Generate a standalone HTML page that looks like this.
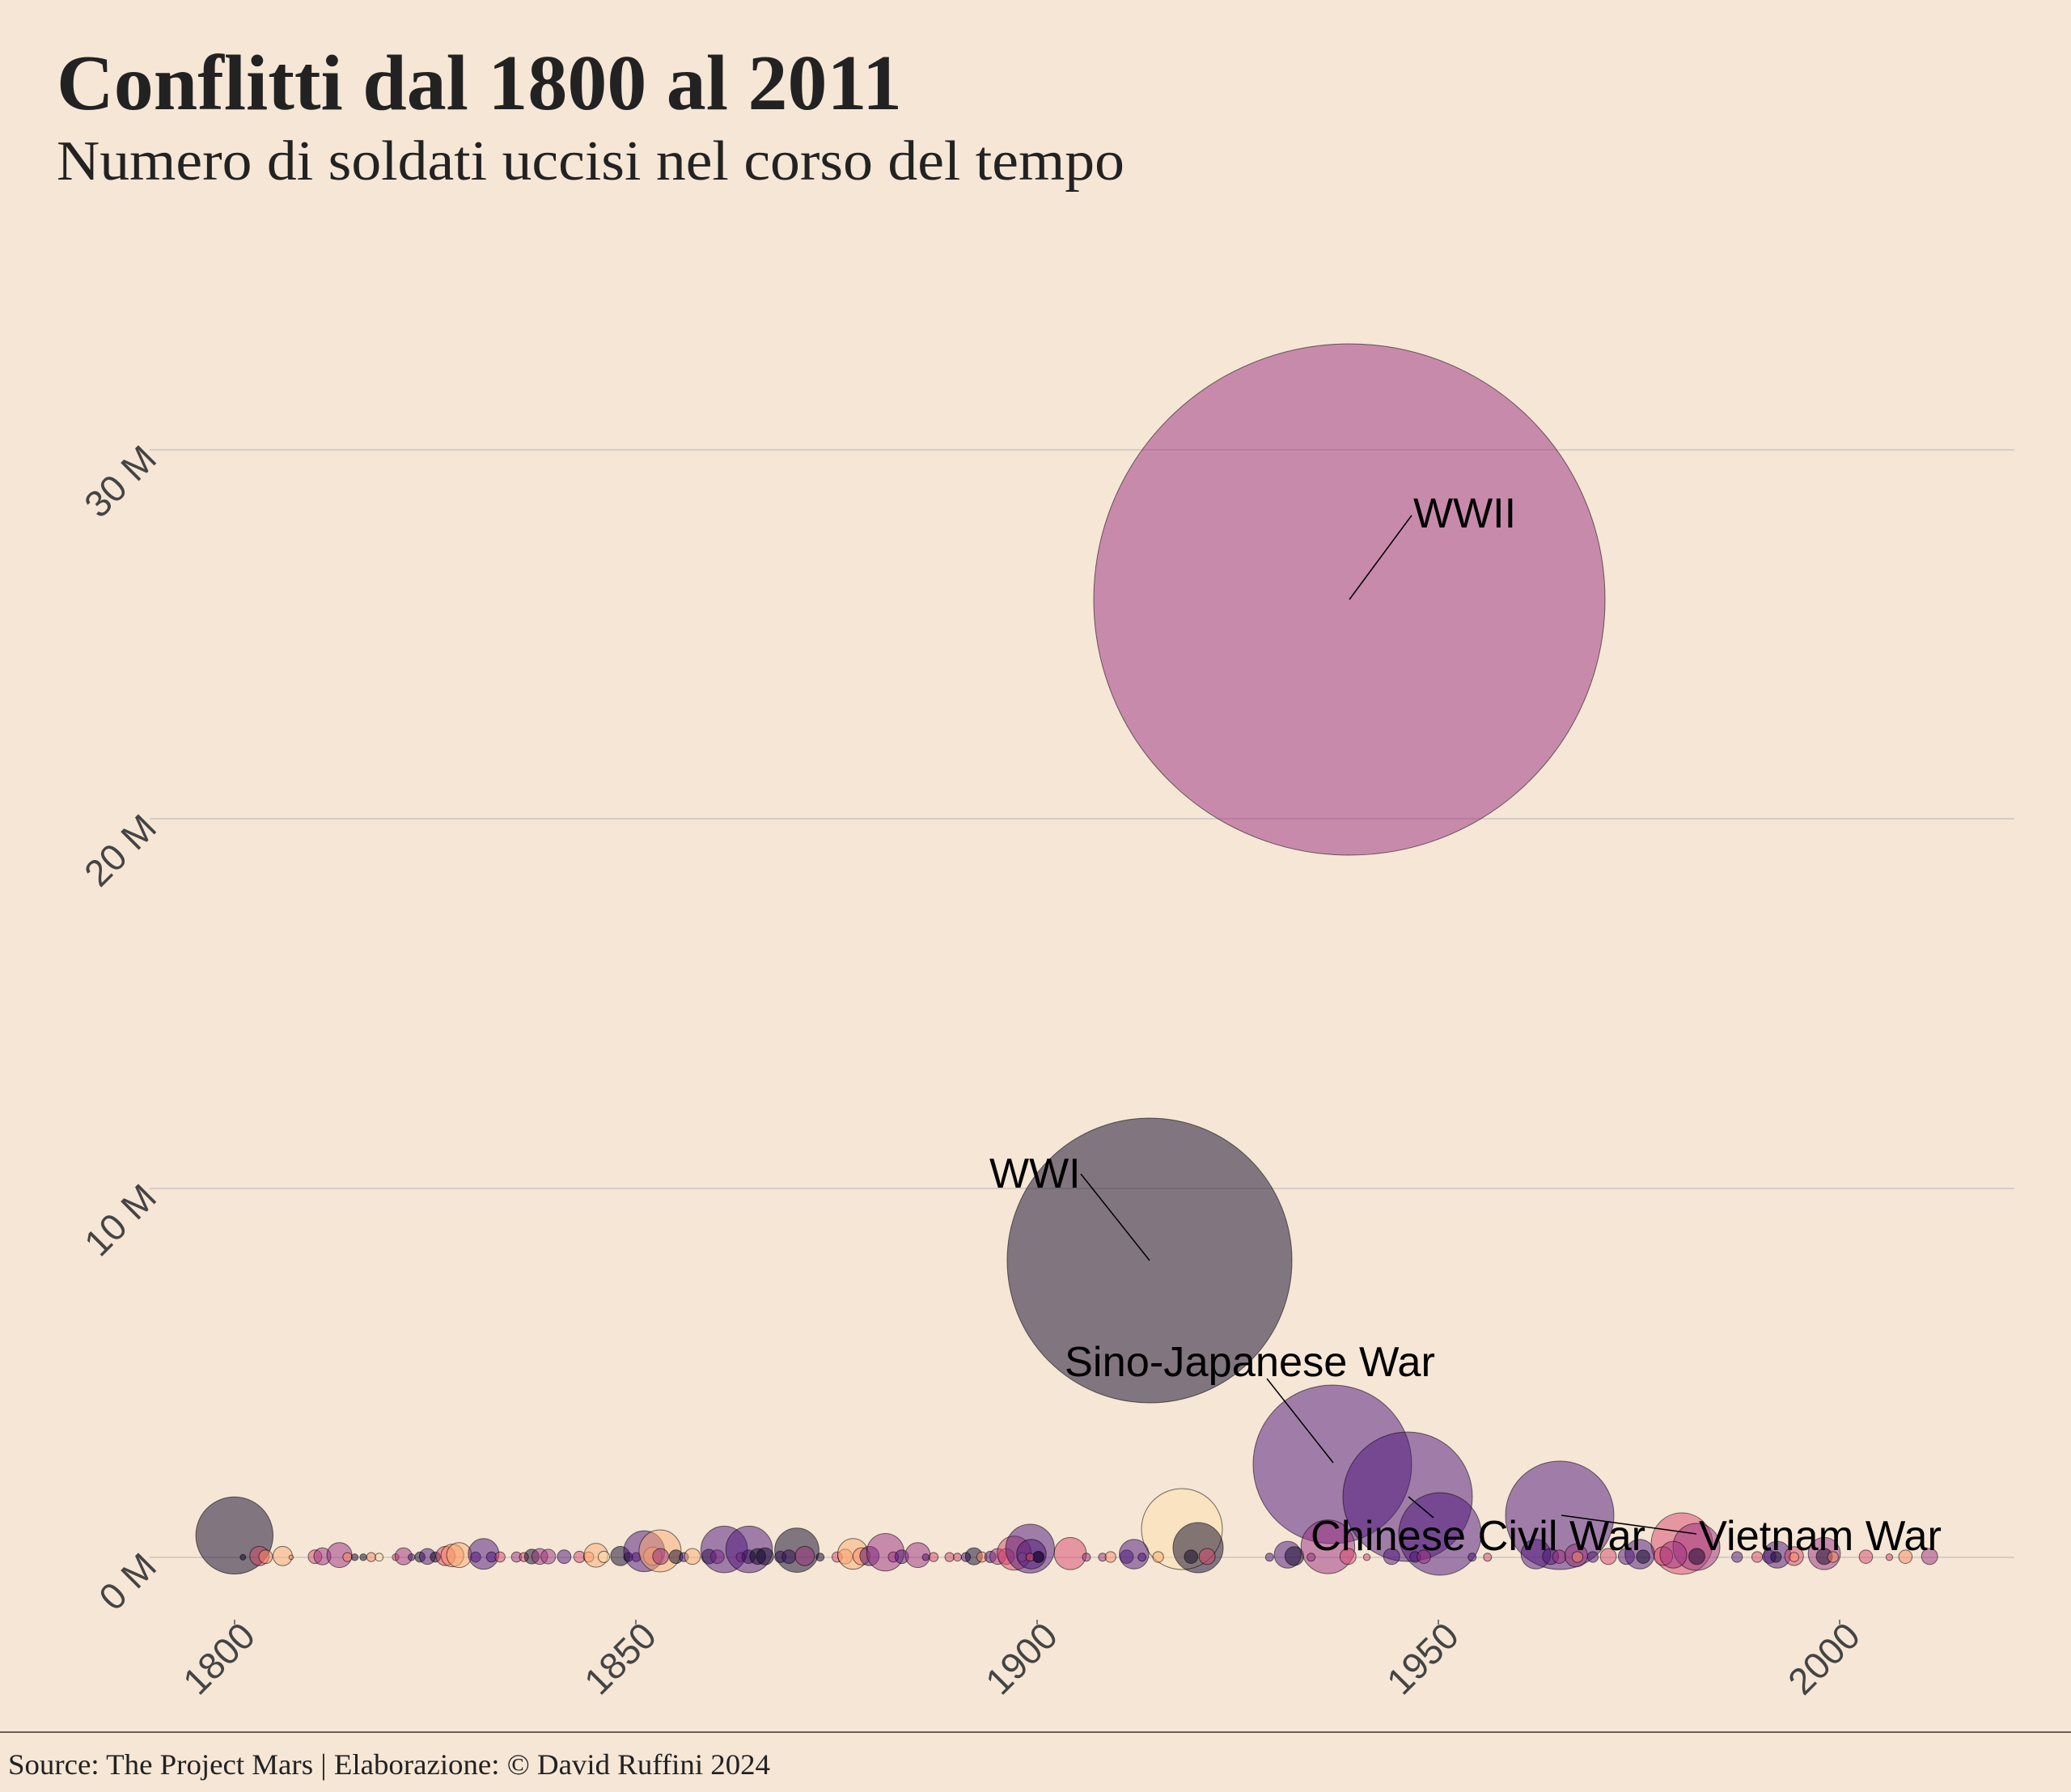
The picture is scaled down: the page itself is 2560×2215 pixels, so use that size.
<!DOCTYPE html>
<html><head><meta charset="utf-8"><style>
html,body{margin:0;padding:0;background:#f5e6d6;}
svg{display:block}
.t{font-family:"Liberation Serif",serif;fill:#222}
.a{font-family:"Liberation Sans",sans-serif}
</style></head><body>
<svg id="s" width="2560" height="2215" viewBox="0 0 2560 2215" xmlns="http://www.w3.org/2000/svg">
<rect width="2560" height="2215" fill="#f5e6d6"/>
<text class="t" x="70" y="135" font-size="97" font-weight="bold" textLength="1045" lengthAdjust="spacingAndGlyphs">Conflitti dal 1800 al 2011</text>
<text class="t" x="70" y="222" font-size="70" fill="#111" textLength="1320" lengthAdjust="spacingAndGlyphs">Numero di soldati uccisi nel corso del tempo</text>
<g stroke="#d6cdc6" stroke-width="2">
<line x1="185" y1="556" x2="2490" y2="556"/>
<line x1="185" y1="1012" x2="2490" y2="1012"/>
<line x1="185" y1="1469" x2="2490" y2="1469"/>
<line x1="185" y1="1925" x2="2490" y2="1925"/>
</g>
<g stroke="#555" stroke-width="1.5">
<line x1="290" y1="2002" x2="290" y2="2008"/><line x1="786" y1="2002" x2="786" y2="2008"/>
<line x1="1282" y1="2002" x2="1282" y2="2008"/><line x1="1778" y1="2002" x2="1778" y2="2008"/>
<line x1="2274" y1="2002" x2="2274" y2="2008"/>
</g>
<g class="a" font-size="46" fill="#444" text-anchor="end">
<text transform="translate(318,2025) rotate(-45)">1800</text>
<text transform="translate(814,2025) rotate(-45)">1850</text>
<text transform="translate(1310,2025) rotate(-45)">1900</text>
<text transform="translate(1806,2025) rotate(-45)">1950</text>
<text transform="translate(2302,2025) rotate(-45)">2000</text>
<text transform="translate(196,1939) rotate(-45)">0 M</text>
<text transform="translate(196,1483) rotate(-45)">10 M</text>
<text transform="translate(196,1026) rotate(-45)">20 M</text>
<text transform="translate(196,570) rotate(-45)">30 M</text>
</g>
<g id="bub" stroke="#000" stroke-opacity="0.55" stroke-width="1"></g>
<g stroke="#000" stroke-width="1.5">
<line x1="1668" y1="741" x2="1745" y2="637"/>
<line x1="1336" y1="1451" x2="1421" y2="1558"/>
<line x1="1566" y1="1704" x2="1648" y2="1808"/>
<line x1="1741" y1="1850" x2="1772" y2="1876"/>
<line x1="1930" y1="1873" x2="2097" y2="1896"/>
</g>
<g class="a" font-size="52" fill="#000">
<text x="1747" y="652">WWII</text>
<text x="1223" y="1468">WWI</text>
<text x="1316" y="1701" textLength="458" lengthAdjust="spacingAndGlyphs">Sino-Japanese War</text>
<text x="1620" y="1916" textLength="414" lengthAdjust="spacingAndGlyphs">Chinese Civil War</text>
<text x="2100" y="1916" textLength="300" lengthAdjust="spacingAndGlyphs">Vietnam War</text>
</g>
<line x1="0" y1="2141" x2="2560" y2="2141" stroke="#6b6058" stroke-width="2"/>
<text class="t" x="10" y="2193" font-size="36" fill="#111" textLength="942" lengthAdjust="spacingAndGlyphs">Source: The Project Mars | Elaborazione: © David Ruffini 2024</text>
</svg>
<script>
var C={k:"#0d0628",p:"#4b147a",m:"#9c2e7f",r:"#d5466b",o:"#fc8961",l:"#fbac72",y:"#fde0aa",g:"#3a2a50"};
var g=document.getElementById("bub"),NS="http://www.w3.org/2000/svg";
function c(x,y,r,col){var e=document.createElementNS(NS,"circle");e.setAttribute("cx",x);e.setAttribute("cy",y);e.setAttribute("r",r);e.setAttribute("fill",C[col]);e.setAttribute("fill-opacity","0.5");g.appendChild(e);}
function b(x,r,col){c(x,1925-r*r/84,r,col);}
c(1668,741,316,"m");
c(1421,1558,176,"k");
c(1647,1810,98,"p");
c(1740,1850,80,"p");
c(1780,1896,51,"p");
c(1928,1873,67,"p");
c(2079,1908,38,"r");
c(2097,1912,29,"m");
c(1461,1890,50,"y");
c(1481,1913,31,"k");
var L=[[128,68,"k"],[143,5,"k"],[172,17,"r"],[183,12,"o"],[213,17,"l"],[228,4,"o"],[270,12,"r"],[283,15,"m"],[313,22,"m"],[327,8,"o"],[340,6,"k"],[355,6,"k"],[369,8,"o"],[383,7,"y"],[412,6,"r"],[426,15,"m"],[440,6,"p"],[455,9,"k"],[468,14,"p"],[482,9,"k"],[500,17,"r"],[512,20,"o"],[524,22,"l"],[553,9,"p"],[567,27,"p"],[581,9,"p"],[596,9,"r"],[625,9,"m"],[638,8,"r"],[652,13,"k"],[666,14,"m"],[681,13,"m"],[709,12,"p"],[736,10,"r"],[752,9,"o"],[765,21,"l"],[779,10,"y"],[808,17,"k"],[822,8,"k"],[836,8,"p"],[850,36,"p"],[865,16,"o"],[878,37,"l"],[879,14,"m"],[906,12,"k"],[920,8,"p"],[935,14,"l"],[964,13,"k"],[979,12,"m"],[991,41,"p"],[1020,8,"m"],[1034,12,"k"],[1035,41,"p"],[1050,14,"k"],[1063,15,"k"],[1090,10,"p"],[1105,12,"p"],[1119,39,"k"],[1133,17,"m"],[1160,7,"k"],[1190,9,"r"],[1204,13,"o"],[1218,27,"l"],[1233,15,"o"],[1247,17,"p"],[1275,33,"m"],[1289,9,"m"],[1304,12,"p"],[1332,22,"m"],[1346,6,"p"],[1360,8,"r"],[1388,8,"r"],[1402,7,"r"],[1417,8,"p"],[1431,15,"k"],[1445,9,"o"],[1460,10,"p"],[1473,14,"m"],[1488,14,"r"],[1502,30,"r"],[1516,8,"y"],[1530,43,"p"],[1545,10,"k"]];
L.forEach(function(a){b(200+a[0]/1.4255,a[1]/1.4255,a[2]);});
var R=[[18,22,"p"],[28,8,"k"],[16,6,"r"],[76,24,"r"],[100,6,"m"],[124,6,"m"],[136,8,"o"],[160,10,"p"],[171,22,"p"],[183,6,"p"],[207,8,"l"],[256,10,"k"],[280,12,"r"],[373,6,"p"],[400,20,"p"],[410,14,"k"],[460,40,"m"],[435,6,"m"],[490,12,"r"],[518,5,"r"],[555,12,"p"],[590,8,"p"],[603,10,"m"],[675,6,"p"],[698,6,"r"],[770,22,"p"],[792,12,"p"],[805,10,"m"],[830,17,"m"],[832,8,"o"],[855,8,"p"],[878,12,"r"],[905,12,"p"],[925,22,"p"],[930,10,"k"],[960,14,"r"],[975,20,"m"],[1010,12,"k"],[1070,8,"p"],[1100,8,"r"],[1118,10,"p"],[1130,20,"p"],[1128,8,"k"],[1155,14,"r"],[1155,7,"o"],[1200,24,"m"],[1200,12,"k"],[1213,8,"o"],[1262,10,"r"],[1297,5,"r"],[1321,10,"o"],[1357,12,"m"]];
R.forEach(function(a){b(1260+a[0]/1.206,a[1]/1.206,a[2]);});
</script>
</body></html>
